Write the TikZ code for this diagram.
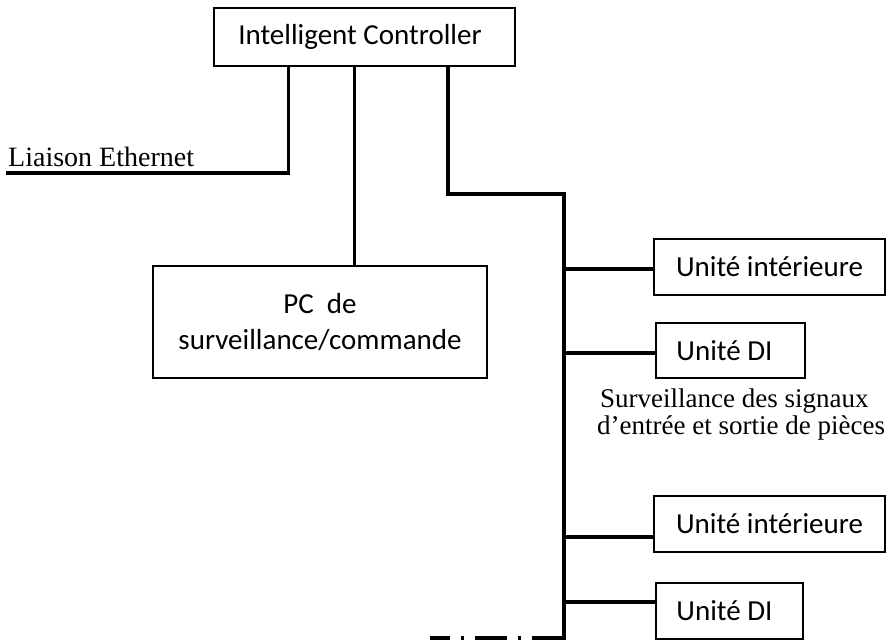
\documentclass[tikz,border=0pt]{standalone}
\usepackage{fontspec}
\setmainfont{Liberation Serif}
\newfontfamily\boxfont{Carlito}
\begin{document}
\begin{tikzpicture}[x=1pt,y=-1pt,
  unitbox/.style={draw, line width=1.6pt, inner sep=0pt, font=\boxfont\fontsize{29}{35}\selectfont, align=center},
  wire/.style={line width=3.5pt, line cap=rect},
  note/.style={inner sep=0pt, font=\fontsize{27}{27}\selectfont}]
\useasboundingbox (0,0) rectangle (888,640);

% boxes
\node[unitbox, minimum width=301pt, minimum height=58pt] (ctrl) at (364.5,37) {Intelligent Controller\hspace{9pt}};
\node[unitbox, minimum width=334pt, minimum height=112pt] (pc) at (320,322) {PC\ \ de\\[1pt]surveillance/commande};
\node[unitbox, minimum width=231pt, minimum height=56pt] (ui1) at (769.5,267) {Unité intérieure};
\node[unitbox, minimum width=149pt, minimum height=55pt] (di1) at (730.5,350.5) {Unité DI\hspace{12pt}};
\node[unitbox, minimum width=231pt, minimum height=56pt] (ui2) at (769.5,524) {Unité intérieure};
\node[unitbox, minimum width=147pt, minimum height=56pt] (di2) at (729.5,611) {Unité DI\hspace{10pt}};

% annotations
\node[note, anchor=base west, font=\fontsize{28}{28}\selectfont] (eth) at (8,166) {Liaison Ethernet};
\node[note, anchor=base west] (sig1) at (600,407) {Surveillance des signaux};
\node[note, anchor=base west] (sig2) at (597,434) {d’entrée et sortie de pièces};

% free ends and bends
\coordinate (ethend) at (8,173);
\coordinate (bustop) at (564,194);
\coordinate (busbot) at (564,638);
\coordinate (busend) at (430,638);

% Ethernet link
\draw[wire] (ctrl.south -| 288.5,0) |- (ethend);
% supervision PC
\draw[wire] (ctrl.south -| 354.5,0) -- (pc.north -| 354.5,0);
% bus to the units
\draw[wire] (ctrl.south -| 448,0) |- (bustop) -- (busbot);
\draw[wire, line cap=butt, dash pattern=on 32pt off 11pt on 3pt off 11pt] (busbot) -- (busend);
\draw[wire, line cap=butt] (bustop |- 0,269) -- (ui1.west |- 0,269);
\draw[wire, line cap=butt] (bustop |- 0,353) -- (di1.west |- 0,353);
\draw[wire, line cap=butt] (bustop |- 0,537) -- (ui2.west |- 0,537);
\draw[wire, line cap=butt] (bustop |- 0,602) -- (di2.west |- 0,602);
\end{tikzpicture}
\end{document}
